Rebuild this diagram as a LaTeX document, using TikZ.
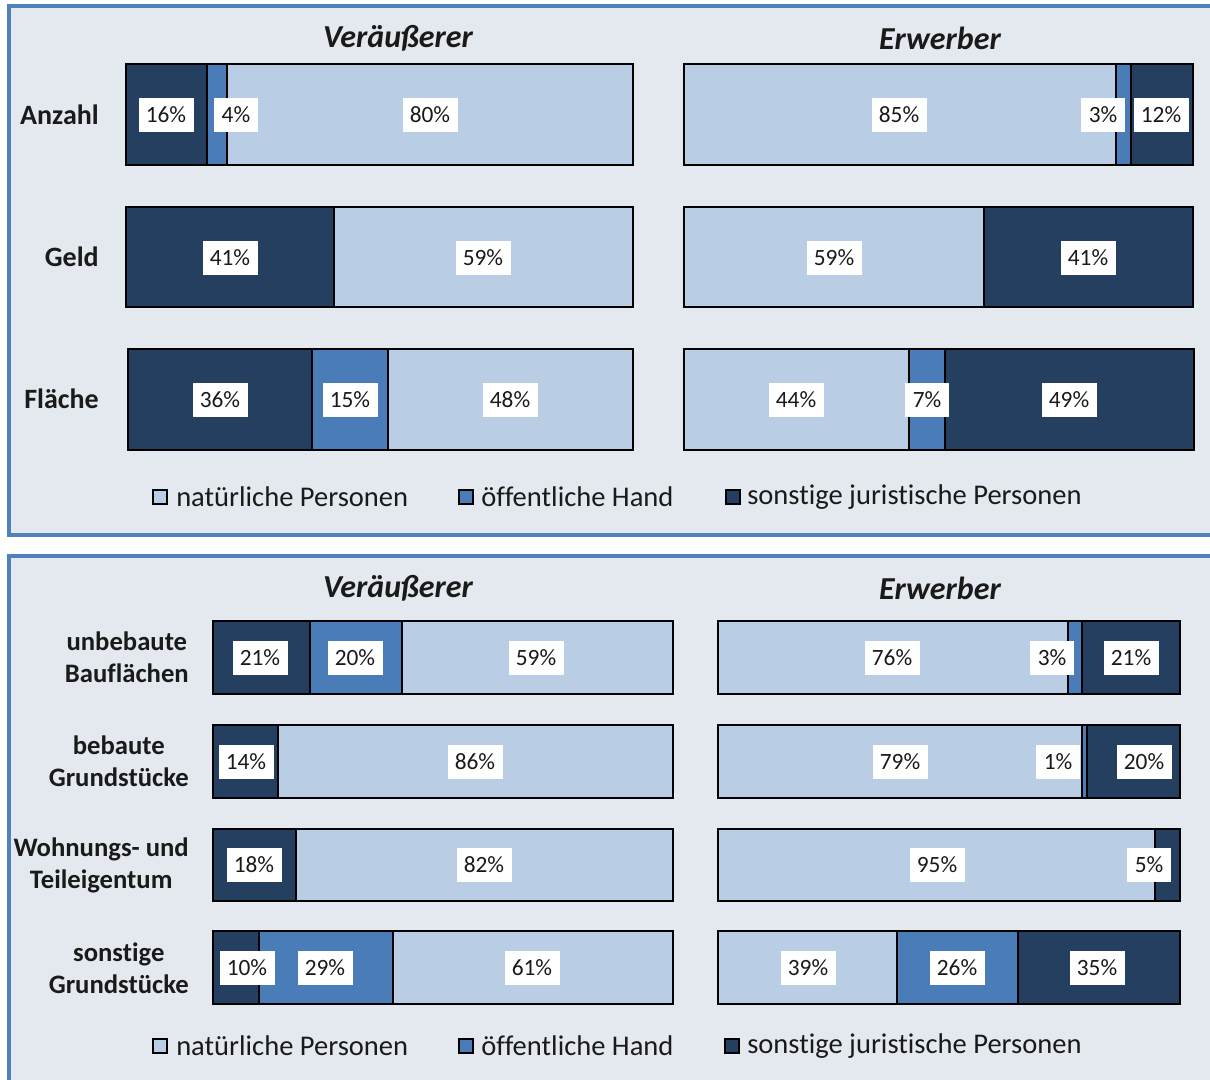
\documentclass[tikz,border=0pt]{standalone}
\usepackage{fontspec}
\setmainfont{Carlito}[Ligatures={NoCommon}]
\definecolor{bg}{HTML}{E4E9EF}
\definecolor{frame}{HTML}{4F81BD}
\definecolor{light}{HTML}{B9CDE5}
\definecolor{mid}{HTML}{4A7CB8}
\definecolor{dark}{HTML}{243F60}
\definecolor{txt}{HTML}{1A1A1A}
\tikzset{
 seg/.style={draw=black, line width=1.5pt},
 pct/.style={fill=white, text=txt, font=\fontsize{17.5}{17.5}\selectfont, inner xsep=5.5pt, inner ysep=0pt, minimum height=26pt},
 rowlab/.style={font=\bfseries\fontsize{20}{24}\selectfont, text=txt, anchor=east, align=center, inner sep=0pt},
 rowlabtop/.style={rowlab, font=\bfseries\fontsize{21}{24}\selectfont},
 title/.style={font=\bfseries\itshape\fontsize{24}{24}\selectfont, text=txt},
 legtxt/.style={font=\fontsize{21.4}{21.4}\selectfont, text=txt, anchor=west, inner sep=0pt},
 legbox/.style={draw=black, line width=1.2pt, minimum size=10.5pt, inner sep=0pt},
 panel/.style={draw=frame, fill=bg, line width=2.4pt}
}
\begin{document}
\begin{tikzpicture}[x=0.75pt,y=-0.75pt]
\useasboundingbox (0,0) rectangle (1210,1079);
\clip (0,0) rectangle (1210,1079);
\fill[white] (0,0) rectangle (1210,1079);
% panels
\draw[panel] (9,6) rectangle (1225,535);
\draw[panel] (9,556) rectangle (1225,1095);

% ===== top panel =====
\node[title] (t1) at (398,38) {Veräußerer};
\node[title] (t2) at (940,38) {Erwerber};
\node[rowlabtop] (rA) at (99,115) {Anzahl};
\node[rowlabtop] (rG) at (99,257) {Geld};
\node[rowlabtop] (rF) at (99,399) {Fläche};

% Anzahl
\filldraw[seg, fill=dark] (126,64) rectangle (207,165);
\filldraw[seg, fill=mid] (207,64) rectangle (227,165);
\filldraw[seg, fill=light] (227,64) rectangle (633,165);
\node[pct] (a1) at (166,115) {16\%};
\node[pct] (a2) at (236,115) {4\%};
\node[pct] (a3) at (430,115) {80\%};
\filldraw[seg, fill=light] (684,64) rectangle (1116,165);
\filldraw[seg, fill=mid] (1116,64) rectangle (1131,165);
\filldraw[seg, fill=dark] (1131,64) rectangle (1193,165);
\node[pct] (a4) at (899,115) {85\%};
\node[pct] (a5) at (1103,115) {3\%};
\node[pct] (a6) at (1161,115) {12\%};
% Geld
\filldraw[seg, fill=dark] (126,207) rectangle (334,307);
\filldraw[seg, fill=light] (334,207) rectangle (633,307);
\node[pct] (g1) at (230,258) {41\%};
\node[pct] (g2) at (483,258) {59\%};
\filldraw[seg, fill=light] (684,207) rectangle (984,307);
\filldraw[seg, fill=dark] (984,207) rectangle (1193,307);
\node[pct] (g3) at (834,258) {59\%};
\node[pct] (g4) at (1088,258) {41\%};
% Flaeche
\filldraw[seg, fill=dark] (128,349) rectangle (312,450);
\filldraw[seg, fill=mid] (312,349) rectangle (388,450);
\filldraw[seg, fill=light] (388,349) rectangle (633,450);
\node[pct] (f1) at (220,400) {36\%};
\node[pct] (f2) at (350,400) {15\%};
\node[pct] (f3) at (510,400) {48\%};
\filldraw[seg, fill=light] (684,349) rectangle (909,450);
\filldraw[seg, fill=mid] (909,349) rectangle (945,450);
\filldraw[seg, fill=dark] (945,349) rectangle (1194,450);
\node[pct] (f4) at (796,400) {44\%};
\node[pct] (f5) at (927,400) {7\%};
\node[pct] (f6) at (1069,400) {49\%};
% legend
\node[legbox, fill=light] (l1) at (160,497) {};
\node[legtxt] (l1t) at (176,497) {natürliche Personen};
\node[legbox, fill=mid] (l2) at (466,497) {};
\node[legtxt] (l2t) at (481,497) {öffentliche Hand};
\node[legbox, fill=dark] (l3) at (733,497) {};
\node[legtxt] (l3t) at (747,497) {sonstige juristische Personen};

% ===== bottom panel =====
\node[title] (t3) at (398,588) {Veräußerer};
\node[title] (t4) at (940,588) {Erwerber};
\node[rowlab] (r1) at (189,657) {unbebaute\\Bauflächen};
\node[rowlab] (r2) at (189,761) {bebaute\\Grundstücke};
\node[rowlab] (r3) at (189,865) {Wohnungs- und\\Teileigentum};
\node[rowlab] (r4) at (189,968) {sonstige\\Grundstücke};
% row 1
\filldraw[seg, fill=dark] (213,621) rectangle (310,694);
\filldraw[seg, fill=mid] (310,621) rectangle (402,694);
\filldraw[seg, fill=light] (402,621) rectangle (673,694);
\node[pct] (b1) at (260,658) {21\%};
\node[pct] (b2) at (355,658) {20\%};
\node[pct] (b3) at (536,658) {59\%};
\filldraw[seg, fill=light] (718,621) rectangle (1068,694);
\filldraw[seg, fill=mid] (1068,621) rectangle (1082,694);
\filldraw[seg, fill=dark] (1082,621) rectangle (1180,694);
\node[pct] (b4) at (892,658) {76\%};
\node[pct] (b5) at (1052,658) {3\%};
\node[pct] (b6) at (1131,658) {21\%};
% row 2
\filldraw[seg, fill=dark] (213,725) rectangle (278,798);
\filldraw[seg, fill=light] (278,725) rectangle (673,798);
\node[pct] (c1) at (246,762) {14\%};
\node[pct] (c2) at (475,762) {86\%};
\filldraw[seg, fill=light] (718,725) rectangle (1082,798);
\filldraw[seg, fill=mid] (1082,725) rectangle (1087,798);
\filldraw[seg, fill=dark] (1087,725) rectangle (1180,798);
\node[pct] (c3) at (900,762) {79\%};
\node[pct] (c4) at (1058,762) {1\%};
\node[pct] (c5) at (1144,762) {20\%};
% row 3
\filldraw[seg, fill=dark] (213,829) rectangle (296,901);
\filldraw[seg, fill=light] (296,829) rectangle (673,901);
\node[pct] (d1) at (254,865) {18\%};
\node[pct] (d2) at (484,865) {82\%};
\filldraw[seg, fill=light] (718,829) rectangle (1155,901);
\filldraw[seg, fill=dark] (1155,829) rectangle (1180,901);
\node[pct] (d3) at (937,865) {95\%};
\node[pct] (d4) at (1149,865) {5\%};
% row 4
\filldraw[seg, fill=dark] (213,931) rectangle (259,1004);
\filldraw[seg, fill=mid] (259,931) rectangle (393,1004);
\filldraw[seg, fill=light] (393,931) rectangle (673,1004);
\node[pct] (e1) at (247,968) {10\%};
\node[pct] (e2) at (325,968) {29\%};
\node[pct] (e3) at (532,968) {61\%};
\filldraw[seg, fill=light] (718,931) rectangle (897,1004);
\filldraw[seg, fill=mid] (897,931) rectangle (1018,1004);
\filldraw[seg, fill=dark] (1018,931) rectangle (1180,1004);
\node[pct] (e4) at (808,968) {39\%};
\node[pct] (e5) at (957,968) {26\%};
\node[pct] (e6) at (1097,968) {35\%};
% legend
\node[legbox, fill=light] (m1) at (160,1046) {};
\node[legtxt] (m1t) at (176,1046) {natürliche Personen};
\node[legbox, fill=mid] (m2) at (466,1046) {};
\node[legtxt] (m2t) at (481,1046) {öffentliche Hand};
\node[legbox, fill=dark] (m3) at (732,1046) {};
\node[legtxt] (m3t) at (747,1046) {sonstige juristische Personen};
\end{tikzpicture}
\end{document}
